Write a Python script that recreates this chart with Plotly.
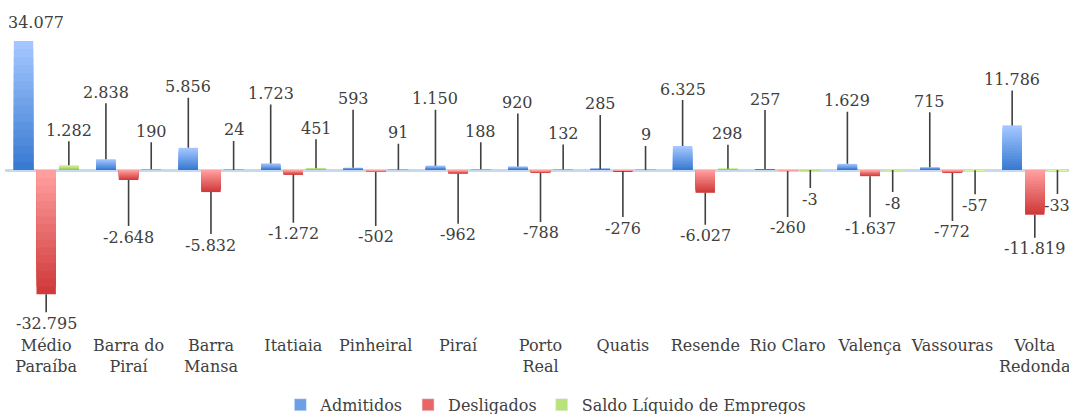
import plotly.graph_objects as go

# ---------------- data ----------------
categories = ["Médio<br>Paraíba", "Barra do<br>Piraí", "Barra<br>Mansa", "Itatiaia",
              "Pinheiral", "Piraí", "Porto<br>Real", "Quatis", "Resende",
              "Rio Claro", "Valença", "Vassouras", "Volta<br>Redonda"]
admitidos = [34077, 2838, 5856, 1723, 593, 1150, 920, 285, 6325, 257, 1629, 715, 11786]
desligados = [-32795, -2648, -5832, -1272, -502, -962, -788, -276, -6027, -260, -1637, -772, -11819]
saldo = [1282, 190, 24, 451, 91, 188, 132, 9, 298, -3, -8, -57, -33]

# ---------------- label placement (pixel offsets of callouts) ----------------
adm_ay = [-19, -67, -61, -70, -69, -67, -64, -65, -57, -70, -63, -66, -46]
adm_ax = [12, 0, 0, 0, 0, 0, 0, 0, 0, 0, 0, 0, 0]
des_ay = [29, 57, 53, 59, 65, 61, 60, 57, 43, 57, 52, 59, 34]
des_ax = [0] * 13
sal_ay = [-35, -38, -40, -40, -37, -38, -36, -35, -35, 29, 33, 35, 35]
sal_ax = [0] * 13

FONT = "DejaVu Serif"
TXT = "#404040"
N = 16  # gradient layers
BW = 0.235


def hex2rgb(h):
    h = h.lstrip("#")
    return tuple(int(h[i:i + 2], 16) for i in (0, 2, 4))


def mix(c1, c2, t):
    a, b = hex2rgb(c1), hex2rgb(c2)
    return "rgb(%d,%d,%d)" % tuple(round(a[i] + (b[i] - a[i]) * t) for i in range(3))


def fmt(v):
    return f"{v:,}".replace(",", ".")


series = [
    ("Admitidos", admitidos, -0.275, "#A3C6FF", "#3A7BD2", "#6C9FE6", adm_ay, adm_ax),
    ("Desligados", desligados, 0.0, "#FF9E9E", "#D03A3A", "#E86666", des_ay, des_ax),
    ("Saldo Líquido de Empregos", saldo, 0.275, "#D8F7A0", "#9CCB55", "#B9E27A", sal_ay, sal_ax),
]

fig = go.Figure()
annotations = []
for name, vals, center, light, dark, legcol, ays, axs in series:
    for k in range(N):
        t = k / (N - 1)
        frac = (N - k) / N
        colors = [mix(light, dark, t) if v >= 0 else mix(dark, light, t) for v in vals]
        fig.add_trace(go.Bar(
            x=categories, y=[v * frac for v in vals],
            offset=center - BW / 2, width=BW,
            marker=dict(color=colors, line=dict(width=0)),
            name=name, legendgroup=name, showlegend=False, hoverinfo="skip",
        ))
    # legend entry
    fig.add_trace(go.Bar(
        x=[categories[0]], y=[None], name=name, legendgroup=name,
        marker=dict(color=legcol), showlegend=True,
    ))
    for i, v in enumerate(vals):
        annotations.append(dict(
            x=i + center, y=v, xref="x", yref="y",
            text=fmt(v), showarrow=True, arrowhead=0, arrowwidth=1.6,
            arrowcolor=TXT if abs(ays[i]) >= 25 else "rgba(0,0,0,0)",
            ax=axs[i], ay=ays[i], standoff=0,
            font=dict(family=FONT, size=16, color=TXT),
        ))

W, H = 1076, 424
fig.update_layout(
    width=W, height=H,
    barmode="overlay",
    margin=dict(l=5, r=0, t=10, b=H - 330, autoexpand=False),
    paper_bgcolor="white", plot_bgcolor="white",
    font=dict(family=FONT, size=16, color=TXT),
    xaxis=dict(type="category", showgrid=False, showline=False, ticks="",
               automargin=False, ticklabelstandoff=4,
               tickfont=dict(family=FONT, size=16, color=TXT),
               range=[-0.5, 12.5]),
    yaxis=dict(range=[-42270, 42270], showgrid=False, showticklabels=False,
               automargin=False,
               zeroline=True, zerolinecolor="#C7D9F0", zerolinewidth=2.5),
    showlegend=True,
    legend=dict(orientation="h", x=0.505, xanchor="center", y=-0.234, yanchor="middle",
                font=dict(family=FONT, size=16, color=TXT), itemwidth=30,
                traceorder="normal"),
    annotations=annotations,
)

fig.write_html("out.html", config={"displayModeBar": False},
               post_script="document.body.style.margin='0';document.body.style.overflow='hidden';")
